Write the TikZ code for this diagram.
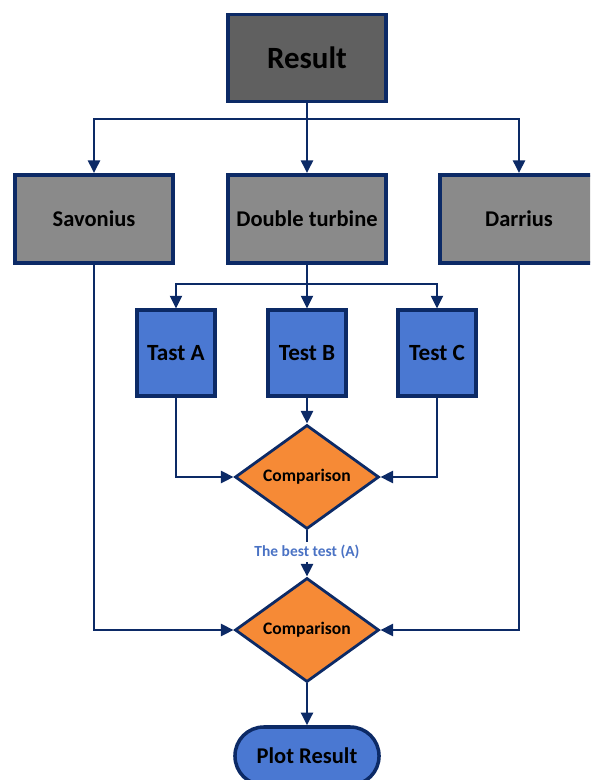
\documentclass[tikz,border=0pt]{standalone}
\usepackage{fontspec}
\setmainfont{Carlito}
\usepackage{xcolor}
\usetikzlibrary{shapes.geometric, arrows.meta}

\definecolor{navy}{HTML}{0C2A66}
\definecolor{darkgray}{HTML}{606060}
\definecolor{midgray}{HTML}{8A8A8A}
\definecolor{testblue}{HTML}{4A78D2}
\definecolor{cmporange}{HTML}{F68A36}
\definecolor{labelblue}{HTML}{4A72C4}

\tikzset{
  box/.style={draw=navy, line width=2.5pt, rectangle, inner sep=0pt, font=\bfseries\fontsize{16}{19}\selectfont},
  topbox/.style={box, fill=darkgray, minimum width=3.96cm, minimum height=2.18cm, font=\bfseries\fontsize{22}{26}\selectfont},
  typebox/.style={box, fill=midgray, minimum width=3.96cm, minimum height=2.21cm},
  testbox/.style={box, fill=testblue, minimum width=1.96cm, minimum height=2.14cm, font=\bfseries\fontsize{16.5}{19}\selectfont},
  cmp/.style={diamond, draw=navy, line width=2pt, fill=cmporange, inner sep=0pt, minimum width=3.6cm, minimum height=2.6cm, font=\bfseries\fontsize{12.5}{15}\selectfont},
  endbox/.style={draw=navy, line width=2.5pt, fill=testblue, rounded corners=0.72cm, minimum width=3.6cm, minimum height=1.45cm, inner sep=0pt, font=\bfseries\fontsize{16}{19}\selectfont},
  link/.style={draw=navy, line width=1.8pt, -{Triangle[length=9pt,width=8.5pt]}},
  plain/.style={draw=navy, line width=1.8pt}
}

\begin{document}
\begin{tikzpicture}[x=0.025cm, y=-0.025cm]
  \useasboundingbox (0,0) rectangle (590,780);
  \clip (0,0) rectangle (590,780);

  % Top result box
  \node[topbox] (res) at (307,58) {Result};

  % Turbine types
  \node[typebox] (sav) at (94,219) {Savonius};
  \node[typebox] (dbl) at (307,219) {Double turbine};
  \node[typebox] (dar) at (519,219) {Darrius};

  % Tests of the double turbine
  \foreach \name/\lbl/\xx in {tA/Tast A/176, tB/Test B/307, tC/Test C/437} {
    \node[testbox] (\name) at (\xx,353) {\lbl};
  }

  % Comparisons
  \node[cmp] (cmpA) at (307,477) {Comparison};
  \node[font=\bfseries\fontsize{11}{13}\selectfont, text=labelblue, inner sep=2pt] (best) at (307,552) {The best test (A)};
  \node[cmp] (cmpB) at (307,630) {Comparison};

  % Final node
  \node[endbox] (plot) at (307,756) {Plot Result};

  % Split points
  \coordinate (split1) at (307,119);
  \coordinate (split2) at (307,284);

  % Result -> types
  \draw[plain] (res.south) -- (split1);
  \foreach \n in {sav, dbl, dar} {
    \draw[link] (split1) -| (\n.north);
  }

  % Double turbine -> tests
  \draw[plain] (dbl.south) -- (split2);
  \foreach \n in {tA, tB, tC} {
    \draw[link] (split2) -| (\n.north);
  }

  % Tests -> first comparison
  \draw[link] (tA.south) |- (cmpA.west);
  \draw[link] (tB.south) -- (cmpA.north);
  \draw[link] (tC.south) |- (cmpA.east);

  % First comparison -> second comparison
  \draw[plain] (cmpA.south) -- (best.north);
  \draw[link] (best.south) -- (cmpB.north);

  % Savonius and Darrius -> second comparison
  \draw[link] (sav.south) |- (cmpB.west);
  \draw[link] (dar.south) |- (cmpB.east);

  % Second comparison -> plot
  \draw[link] (cmpB.south) -- (plot.north);
\end{tikzpicture}
\end{document}
